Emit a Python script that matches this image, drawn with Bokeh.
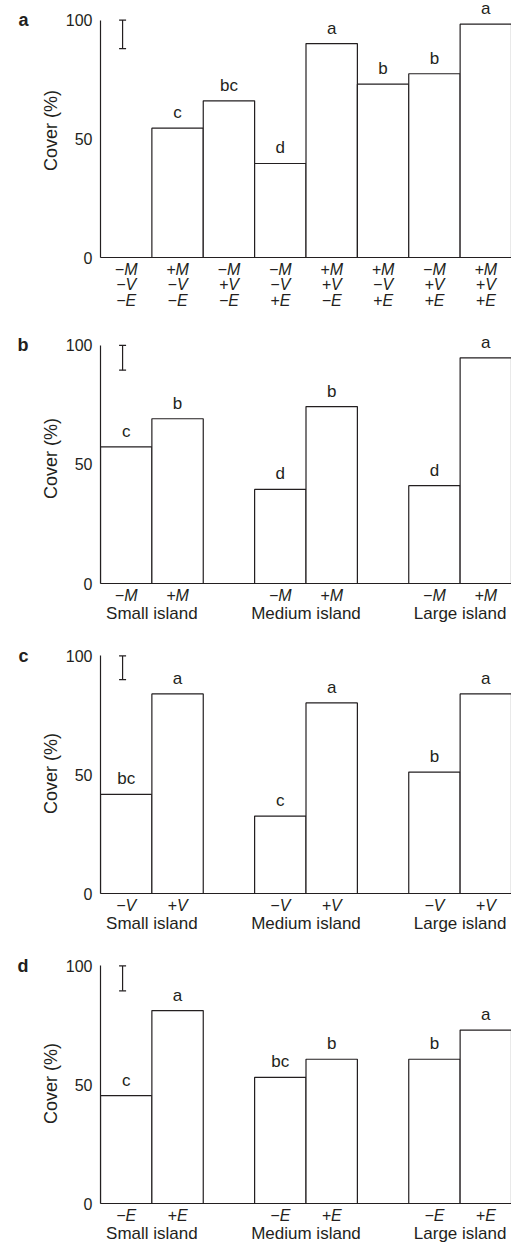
from bokeh.plotting import figure
from bokeh.models import (FactorRange, Range1d, FixedTicker, ColumnDataSource,
                          LabelSet, Whisker, TeeHead, LinearAxis)
from bokeh.core.properties import value
from bokeh.layouts import column
from bokeh.embed import file_html
from bokeh.resources import INLINE

FONT = "Liberation Sans"
INK = "#231f20"

# ---------------- data ----------------
a_cats = ["−M\n−V\n−E", "+M\n−V\n−E", "−M\n+V\n−E", "−M\n−V\n+E",
          "+M\n+V\n−E", "+M\n−V\n+E", "−M\n+V\n+E", "+M\n+V\n+E"]
a_vals = [0, 54.5, 66.0, 39.6, 90.1, 73.0, 77.4, 98.3]
a_sig = ["", "c", "bc", "d", "a", "b", "b", "a"]
a_err = [88.0, 100.0]

islands = ["Small island", "Medium island", "Large island"]

b_treat = ["−M", "+M"]
b_vals = [57.4, 69.2, 39.5, 74.3, 41.1, 94.8]
b_sig = ["c", "b", "d", "b", "d", "a"]
b_err = [89.6, 100.0]

c_treat = ["−V", "+V"]
c_vals = [41.7, 84.0, 32.6, 80.2, 51.1, 84.0]
c_sig = ["bc", "a", "c", "a", "b", "a"]
c_err = [90.0, 100.0]

d_treat = ["−E", "+E"]
d_vals = [45.4, 81.2, 53.1, 60.7, 60.7, 73.0]
d_sig = ["c", "a", "bc", "b", "b", "a"]
d_err = [89.5, 100.0]

y_ticks = [0, 50, 100]

WIDTH = 511
LEFT = 100
K = 2.377  # px per % cover


def make_panel(letter, xr, factors, vals, sig, err, y_end, top, bottom,
               x_tick_out, x_standoff):
    frame_h = round(y_end * K)
    p = figure(width=WIDTH, height=top + frame_h + bottom, x_range=xr,
               y_range=Range1d(0, y_end), output_backend="svg",
               toolbar_location=None, min_border_left=LEFT,
               min_border_right=0, min_border_top=top,
               min_border_bottom=bottom)
    p.outline_line_color = None
    p.xgrid.visible = False
    p.ygrid.visible = False
    p.background_fill_color = "white"

    src = ColumnDataSource(dict(x=factors, top=vals, sig=sig))
    p.vbar(x="x", top="top", width=1.0, source=src, fill_color="white",
           line_color=INK, line_width=1.2)

    labels = LabelSet(x="x", y="top", text="sig", source=src,
                      text_align="center", text_baseline="alphabetic",
                      y_offset=10, text_font=value(FONT),
                      text_font_size=value("17px"), text_color=value(INK))
    p.add_layout(labels)

    esrc = ColumnDataSource(dict(base=[0.43], lower=[err[0]], upper=[err[1]]))
    w = Whisker(base="base", lower="lower", upper="upper", source=esrc,
                dimension="height", line_color=INK, line_width=1.2,
                upper_head=TeeHead(size=7, line_color=INK, line_width=1.2),
                lower_head=TeeHead(size=7, line_color=INK, line_width=1.2))
    p.add_layout(w)

    ya = p.yaxis[0]
    ya.bounds = (0, 100)
    ya.ticker = FixedTicker(ticks=y_ticks)
    ya.major_tick_line_color = None
    ya.major_tick_out = 0
    ya.major_tick_in = 0
    ya.minor_tick_line_color = None
    ya.axis_line_color = INK
    ya.axis_line_width = 1.2
    ya.major_label_text_font = FONT
    ya.major_label_text_font_size = "16px"
    ya.major_label_text_color = INK
    ya.major_label_standoff = 8
    ya.axis_label = "Cover (%)"
    ya.axis_label_text_font = FONT
    ya.axis_label_text_font_style = "normal"
    ya.axis_label_text_font_size = "18px"
    ya.axis_label_text_color = INK
    ya.axis_label_standoff = 2

    # panel letter, as the single label of an outer left axis
    la = LinearAxis(ticker=FixedTicker(ticks=[100]),
                    major_label_overrides={100: letter})
    la.axis_line_color = None
    la.major_tick_line_color = None
    la.major_tick_out = 0
    la.major_tick_in = 0
    la.minor_tick_line_color = None
    la.major_label_standoff = 9
    la.major_label_text_font = FONT
    la.major_label_text_font_style = "bold"
    la.major_label_text_font_size = "18px"
    la.major_label_text_color = INK
    p.add_layout(la, "left")

    xa = p.xaxis[0]
    xa.major_tick_line_color = None
    xa.major_tick_out = x_tick_out
    xa.major_tick_in = 0
    xa.minor_tick_line_color = None
    xa.axis_line_color = INK
    xa.axis_line_width = 1.2
    xa.major_label_text_font = FONT
    xa.major_label_text_font_style = "italic"
    xa.major_label_text_font_size = "16px"
    xa.major_label_text_line_height = 0.92
    xa.major_label_text_color = INK
    xa.major_label_standoff = x_standoff
    xa.separator_line_color = None
    xa.group_text_font = FONT
    xa.group_text_font_style = "normal"
    xa.group_text_font_size = "17px"
    xa.group_text_color = INK
    return p


xr_a = FactorRange(*a_cats, factor_padding=0, range_padding=0)
pa = make_panel("a", xr_a, a_cats, a_vals, a_sig, a_err, 107, top=3, bottom=73,
                x_tick_out=3, x_standoff=0)


def nested(treat):
    return [(isl, t) for isl in islands for t in treat]


def nested_range(f):
    return FactorRange(*f, factor_padding=0, group_padding=1.0, range_padding=0)


fb = nested(b_treat)
pb = make_panel("b", nested_range(fb), fb, b_vals, b_sig, b_err, 105, top=3, bottom=60,
                x_tick_out=6, x_standoff=-3)
fc = nested(c_treat)
pc = make_panel("c", nested_range(fc), fc, c_vals, c_sig, c_err, 101, top=10, bottom=60,
                x_tick_out=6, x_standoff=-3)
fd = nested(d_treat)
pd = make_panel("d", nested_range(fd), fd, d_vals, d_sig, d_err, 101, top=10, bottom=42,
                x_tick_out=6, x_standoff=-3)

layout = column(pa, pb, pc, pd, spacing=0)
open("out.html", "w").write(file_html(layout, INLINE))
